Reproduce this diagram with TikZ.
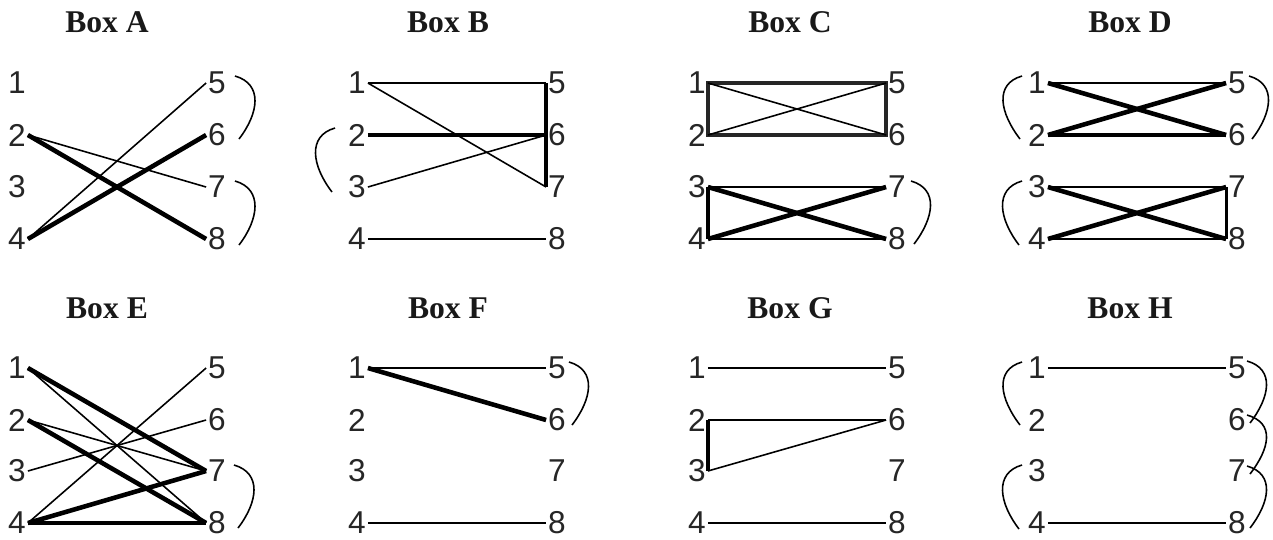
\documentclass[tikz,border=0pt]{standalone}
\usepackage{fontspec}
\setmainfont{Liberation Serif}
\newfontfamily\numfont{Liberation Sans}
\usepackage{tikz}
\usetikzlibrary{calc}

\begin{document}
\begin{tikzpicture}[
    x=0.02cm, y=-0.02cm,
    num/.style={font=\numfont\fontsize{18}{20}\selectfont, text=black!85, inner xsep=1pt, inner ysep=0pt},
    ttl/.style={font=\bfseries\fontsize{18}{20}\selectfont, text=black!90},
    link/.style={line width=0.9pt},
    mid/.style={line width=1.6pt},
    strong/.style={line width=2.6pt},
    arc/.style={line width=0.9pt}
]
    \useasboundingbox (0,0) rectangle (1273,539);

    % Box A
    \node[ttl] (ta) at (107,22) {Box A};
    \node[num] (a1) at (17,83) {1};
    \node[num] (a2) at (17,135) {2};
    \node[num] (a3) at (17,187) {3};
    \node[num] (a4) at (17,239) {4};
    \node[num] (a5) at (217,83) {5};
    \node[num] (a6) at (217,135) {6};
    \node[num] (a7) at (217,187) {7};
    \node[num] (a8) at (217,239) {8};
    \draw[link] (a4.east) -- (a5.west);
    \draw[strong] (a4.east) -- (a6.west);
    \draw[strong] (a2.east) -- (a8.west);
    \draw[link] (a2.east) -- (a7.west);
    \draw[arc] ($(a5)+(18,-7)$) .. controls +(28,8) and +(20,-26) .. ($(a6)+(22,4)$);
    \draw[arc] ($(a7)+(18,-6)$) .. controls +(28,8) and +(20,-26) .. ($(a8)+(22,6)$);

    % Box B
    \node[ttl] (tb) at (448,22) {Box B};
    \node[num] (b1) at (357,83) {1};
    \node[num] (b2) at (357,135) {2};
    \node[num] (b3) at (357,187) {3};
    \node[num] (b4) at (357,239) {4};
    \node[num] (b5) at (557,83) {5};
    \node[num] (b6) at (557,135) {6};
    \node[num] (b7) at (557,187) {7};
    \node[num] (b8) at (557,239) {8};
    \draw[link] (b1.east) -- (b5.west);
    \draw[link] (b1.east) -- (b7.west);
    \draw[strong] (b2.east) -- (b6.west);
    \draw[link] (b3.east) -- (b6.west);
    \draw[link] (b4.east) -- (b8.west);
    \draw[strong] (b5.west) -- (b7.west);
    \draw[arc] ($(b2)+(-22,-7)$) .. controls +(-28,8) and +(-20,-26) .. ($(b3)+(-25,5)$);

    % Box C
    \node[ttl] (tc) at (790,22) {Box C};
    \node[num] (c1) at (697,83) {1};
    \node[num] (c2) at (697,135) {2};
    \node[num] (c3) at (697,187) {3};
    \node[num] (c4) at (697,239) {4};
    \node[num] (c5) at (897,83) {5};
    \node[num] (c6) at (897,135) {6};
    \node[num] (c7) at (897,187) {7};
    \node[num] (c8) at (897,239) {8};
    \draw[strong, black!85] (c1.east) -- (c5.west) -- (c6.west) -- (c2.east) -- cycle;
    \draw[link] (c1.east) -- (c6.west);
    \draw[link] (c2.east) -- (c5.west);
    \draw[link] (c3.east) -- (c7.west);
    \draw[link] (c4.east) -- (c8.west);
    \draw[strong] (c3.east) -- (c4.east);
    \draw[strong] (c3.east) -- (c8.west);
    \draw[strong] (c4.east) -- (c7.west);
    \draw[arc] ($(c7)+(14,-6)$) .. controls +(28,8) and +(20,-26) .. ($(c8)+(17,5)$);

    % Box D
    \node[ttl] (td) at (1130,22) {Box D};
    \node[num] (d1) at (1037,83) {1};
    \node[num] (d2) at (1037,135) {2};
    \node[num] (d3) at (1037,187) {3};
    \node[num] (d4) at (1037,239) {4};
    \node[num] (d5) at (1237,83) {5};
    \node[num] (d6) at (1237,135) {6};
    \node[num] (d7) at (1237,187) {7};
    \node[num] (d8) at (1237,239) {8};
    \draw[link] (d1.east) -- (d5.west);
    \draw[strong] (d1.east) -- (d6.west);
    \draw[strong] (d2.east) -- (d5.west);
    \draw[strong] (d2.east) -- (d6.west);
    \draw[link] (d3.east) -- (d7.west);
    \draw[strong] (d3.east) -- (d8.west);
    \draw[strong] (d4.east) -- (d7.west);
    \draw[link] (d4.east) -- (d8.west);
    \draw[mid] (d7.west) -- (d8.west);
    \draw[arc] ($(d1)+(-15,-7)$) .. controls +(-28,8) and +(-20,-26) .. ($(d2)+(-17,4)$);
    \draw[arc] ($(d3)+(-15,-6)$) .. controls +(-28,8) and +(-20,-26) .. ($(d4)+(-18,6)$);
    \draw[arc] ($(d5)+(12,-7)$) .. controls +(28,8) and +(20,-26) .. ($(d6)+(15,4)$);

    % Box E
    \node[ttl] (te) at (107,308) {Box E};
    \node[num] (e1) at (17,368) {1};
    \node[num] (e2) at (17,420) {2};
    \node[num] (e3) at (17,471) {3};
    \node[num] (e4) at (17,523) {4};
    \node[num] (e5) at (217,368) {5};
    \node[num] (e6) at (217,420) {6};
    \node[num] (e7) at (217,471) {7};
    \node[num] (e8) at (217,523) {8};
    \draw[strong] (e1.east) -- (e7.west);
    \draw[link] (e1.east) -- (e8.west);
    \draw[strong] (e2.east) -- (e8.west);
    \draw[link] (e2.east) -- (e7.west);
    \draw[link] (e3.east) -- (e6.west);
    \draw[link] (e4.east) -- (e5.west);
    \draw[strong] (e4.east) -- (e7.west);
    \draw[strong] (e4.east) -- (e8.west);
    \draw[arc] ($(e7)+(17,-6)$) .. controls +(28,8) and +(20,-26) .. ($(e8)+(21,5)$);

    % Box F
    \node[ttl] (tf) at (448,308) {Box F};
    \node[num] (f1) at (357,368) {1};
    \node[num] (f2) at (357,420) {2};
    \node[num] (f3) at (357,471) {3};
    \node[num] (f4) at (357,523) {4};
    \node[num] (f5) at (557,368) {5};
    \node[num] (f6) at (557,420) {6};
    \node[num] (f7) at (557,471) {7};
    \node[num] (f8) at (557,523) {8};
    \draw[link] (f1.east) -- (f5.west);
    \draw[strong] (f1.east) -- (f6.west);
    \draw[link] (f4.east) -- (f8.west);
    \draw[arc] ($(f5)+(12,-6)$) .. controls +(28,8) and +(20,-26) .. ($(f6)+(15,5)$);

    % Box G
    \node[ttl] (tg) at (790,308) {Box G};
    \node[num] (g1) at (697,368) {1};
    \node[num] (g2) at (697,420) {2};
    \node[num] (g3) at (697,471) {3};
    \node[num] (g4) at (697,523) {4};
    \node[num] (g5) at (897,368) {5};
    \node[num] (g6) at (897,420) {6};
    \node[num] (g7) at (897,471) {7};
    \node[num] (g8) at (897,523) {8};
    \draw[link] (g1.east) -- (g5.west);
    \draw[mid] (g2.east) -- (g6.west);
    \draw[strong] (g2.east) -- (g3.east);
    \draw[link] (g3.east) -- (g6.west);
    \draw[link] (g4.east) -- (g8.west);

    % Box H
    \node[ttl] (th) at (1130,308) {Box H};
    \node[num] (h1) at (1037,368) {1};
    \node[num] (h2) at (1037,420) {2};
    \node[num] (h3) at (1037,471) {3};
    \node[num] (h4) at (1037,523) {4};
    \node[num] (h5) at (1237,368) {5};
    \node[num] (h6) at (1237,420) {6};
    \node[num] (h7) at (1237,471) {7};
    \node[num] (h8) at (1237,523) {8};
    \draw[link] (h1.east) -- (h5.west);
    \draw[link] (h4.east) -- (h8.west);
    \draw[arc] ($(h1)+(-15,-6)$) .. controls +(-28,8) and +(-20,-26) .. ($(h2)+(-17,5)$);
    \draw[arc] ($(h3)+(-15,-6)$) .. controls +(-28,8) and +(-20,-26) .. ($(h4)+(-18,6)$);
    \draw[arc] ($(h5)+(10,-7)$) .. controls +(28,8) and +(20,-26) .. ($(h6)+(13,3)$);
    \draw[arc] ($(h6)+(10,-5)$) .. controls +(28,8) and +(20,-26) .. ($(h7)+(13,3)$);
    \draw[arc] ($(h7)+(10,-5)$) .. controls +(28,8) and +(20,-26) .. ($(h8)+(13,5)$);
\end{tikzpicture}
\end{document}
